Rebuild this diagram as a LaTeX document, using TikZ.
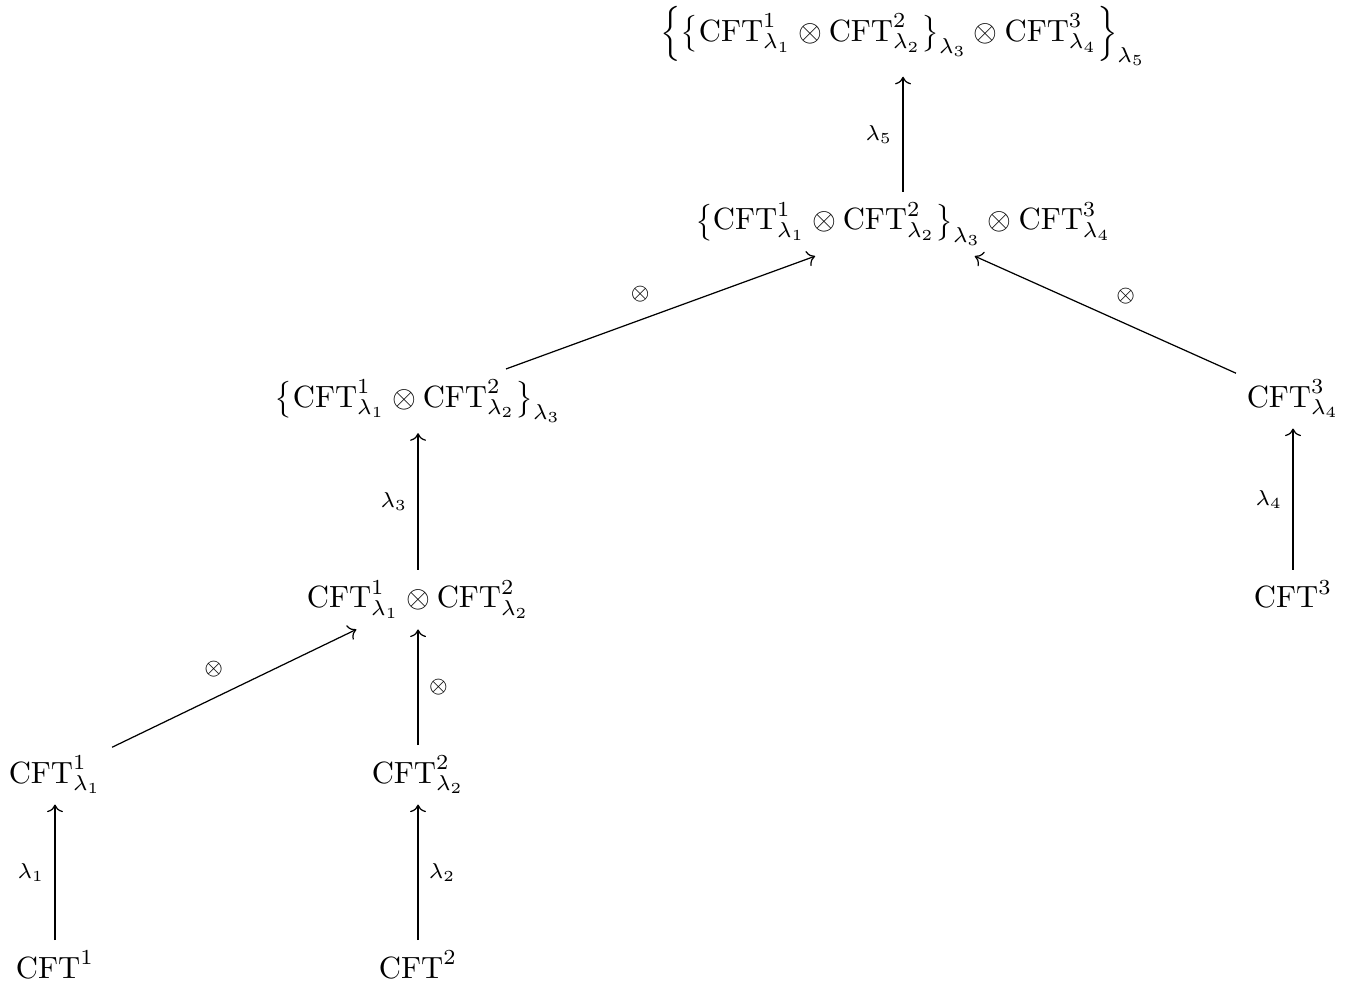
\documentclass[tikz,border=0pt]{standalone}
\usepackage{amsmath}
\usetikzlibrary{arrows.meta}

\newcommand{\CFT}{\mathrm{CFT}}

\begin{document}
\begin{tikzpicture}[
    >={Computer Modern Rightarrow},
    cell/.style={anchor=base},
    lab/.style={font=\scriptsize}
]

    % Fix the size of the picture
    \useasboundingbox (0,0) rectangle (15.5,11.319);

    % Define the horizontal position of each column
    \def\xa{0.630}
    \def\xb{4.789}
    \def\xc{10.345}
    \def\xd{14.813}

    % Bottom row: the bare theories
    \node[cell] (T1) at (\xa,0.114) {$\CFT^1$};
    \node[cell] (T2) at (\xb,0.114) {$\CFT^2$};

    % Deformed theories
    \node[cell] (D1) at (\xa,2.348) {$\CFT^1_{\lambda_1}$};
    \node[cell] (D2) at (\xb,2.348) {$\CFT^2_{\lambda_2}$};

    % First tensor product and the third theory
    \node[cell] (P12) at (\xb,4.354) {$\CFT^1_{\lambda_1} \otimes \CFT^2_{\lambda_2}$};
    \node[cell] (T3) at (\xd,4.354) {$\CFT^3$};

    % Deformed product and deformed third theory
    \node[cell] (D12) at (\xb,6.656) {$\bigl\{\CFT^1_{\lambda_1} \otimes \CFT^2_{\lambda_2}\bigr\}_{\lambda_3}$};
    \node[cell] (D3) at (\xd,6.656) {$\CFT^3_{\lambda_4}$};

    % Second tensor product
    \node[cell] (P123) at (\xc,8.684) {$\bigl\{\CFT^1_{\lambda_1} \otimes \CFT^2_{\lambda_2}\bigr\}_{\lambda_3} \otimes \CFT^3_{\lambda_4}$};

    % Top: the final deformed theory
    \node[cell] (D123) at (\xc,10.845) {$\Bigl\{\bigl\{\CFT^1_{\lambda_1} \otimes \CFT^2_{\lambda_2}\bigr\}_{\lambda_3} \otimes \CFT^3_{\lambda_4}\Bigr\}_{\lambda_5}$};

    % Deformations
    \draw[->] (T1) -- node[lab, left] {$\lambda_1$} (D1);
    \draw[->] (T2) -- node[lab, right] {$\lambda_2$} (D2);
    \draw[->] (P12) -- node[lab, left] {$\lambda_3$} (D12);
    \draw[->] (T3) -- node[lab, left] {$\lambda_4$} (D3);
    \draw[->] (P123) -- node[lab, left] {$\lambda_5$} (D123);

    % Tensor products
    \draw[->] (D1) -- node[lab, above left] {$\otimes$} (P12);
    \draw[->] (D2) -- node[lab, right] {$\otimes$} (P12);
    \draw[->] (D12) -- node[lab, above left] {$\otimes$} (P123);
    \draw[->] (D3) -- node[lab, above right] {$\otimes$} (P123);

\end{tikzpicture}
\end{document}
